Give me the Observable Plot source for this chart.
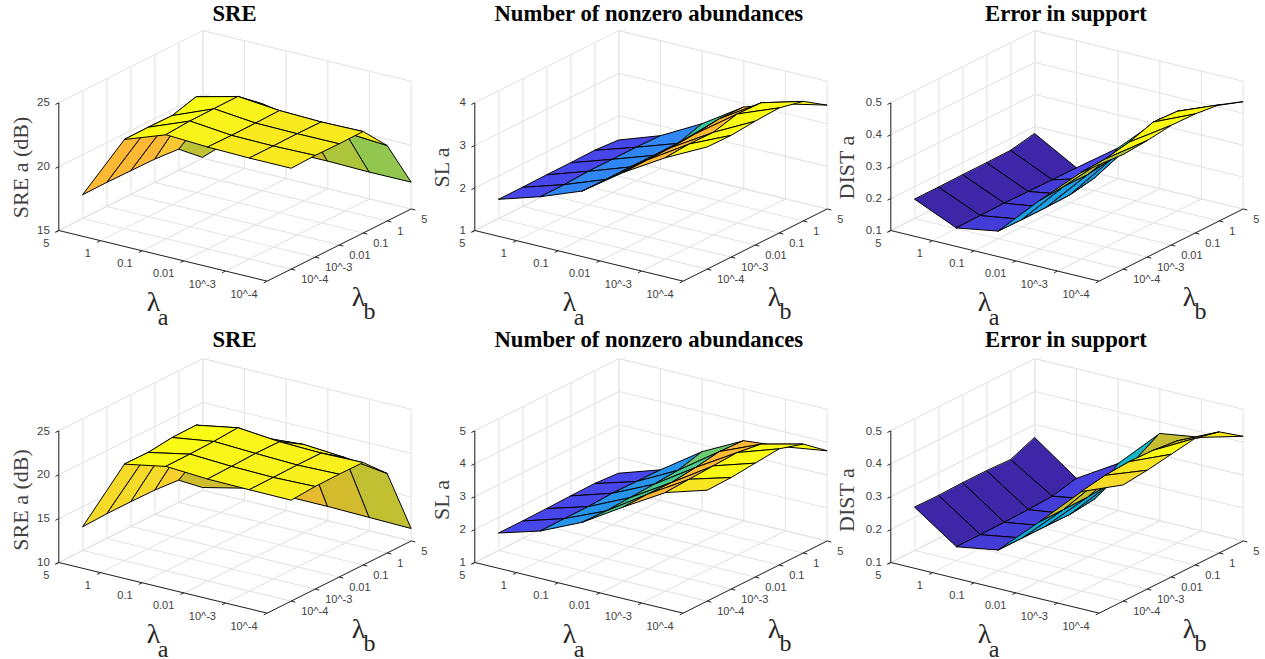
<!DOCTYPE html>
<html>
<head>
<meta charset="utf-8">
<script src="https://cdn.jsdelivr.net/npm/d3@7"></script>
<script src="https://cdn.jsdelivr.net/npm/@observablehq/plot@0.6"></script>
<style>
html,body{margin:0;padding:0;background:#fff;overflow:hidden}
#chart{position:relative;width:1265px;height:659px}
#chart svg{position:absolute;overflow:visible}
</style>
</head>
<body>
<div id="chart"></div>
<script>
// axis categories
const lambdaA = ["5", "1", "0.1", "0.01", "10^-3", "10^-4"];
const lambdaB = ["10^-4", "10^-3", "0.01", "0.1", "1", "5"];

// surface heights: rows follow lambdaA, columns follow lambdaB
const sreTop = [
  [16.88, 16.90, 16.87, 16.84, 16.68, 15.09],
  [21.98, 22.00, 21.97, 22.50, 21.50, 17.87],
  [23.14, 23.27, 23.29, 23.31, 21.80, 17.14],
  [22.97, 22.94, 22.96, 23.00, 21.20, 17.16],
  [22.90, 22.90, 22.92, 22.90, 21.14, 17.09],
  [22.90, 22.96, 22.93, 22.95, 20.91, 17.10]
];
const slTop = [
  [1.45, 1.45, 1.46, 1.46, 1.47, 1.43],
  [1.75, 1.75, 1.78, 1.78, 1.78, 1.77],
  [2.12, 2.11, 2.12, 2.11, 2.11, 2.29],
  [2.80, 2.81, 2.82, 2.86, 2.93, 2.92],
  [3.38, 3.42, 3.41, 3.56, 3.54, 3.23],
  [3.87, 3.86, 3.91, 3.94, 3.81, 3.44]
];
const distTop = [
  [0.160, 0.160, 0.161, 0.161, 0.162, 0.177],
  [0.102, 0.103, 0.104, 0.103, 0.102, 0.102],
  [0.124, 0.123, 0.123, 0.125, 0.139, 0.196],
  [0.252, 0.258, 0.258, 0.269, 0.289, 0.319],
  [0.372, 0.376, 0.391, 0.416, 0.412, 0.385],
  [0.459, 0.465, 0.475, 0.473, 0.464, 0.436]
];
const sreBottom = [
  [12.73, 12.84, 12.84, 12.80, 12.56, 10.32],
  [20.99, 20.95, 21.28, 21.32, 19.50, 11.40],
  [21.88, 21.91, 21.98, 22.17, 19.70, 11.64],
  [21.59, 21.66, 21.77, 21.73, 20.05, 11.62],
  [21.53, 21.56, 21.60, 21.59, 19.70, 11.52],
  [21.50, 21.69, 21.72, 21.68, 19.06, 11.42]
];
const slBottom = [
  [1.53, 1.53, 1.54, 1.56, 1.57, 1.52],
  [1.90, 1.91, 1.91, 1.95, 1.94, 1.93],
  [2.47, 2.45, 2.49, 2.53, 2.59, 2.79],
  [3.25, 3.27, 3.26, 3.35, 3.47, 3.43],
  [3.99, 4.03, 4.07, 4.11, 4.00, 3.55],
  [4.37, 4.39, 4.46, 4.53, 4.31, 3.74]
];
const distBottom = [
  [0.231, 0.230, 0.232, 0.232, 0.229, 0.260],
  [0.142, 0.142, 0.143, 0.145, 0.149, 0.167],
  [0.163, 0.163, 0.163, 0.162, 0.171, 0.243],
  [0.280, 0.281, 0.282, 0.289, 0.323, 0.365],
  [0.402, 0.415, 0.420, 0.418, 0.410, 0.384],
  [0.453, 0.461, 0.473, 0.485, 0.468, 0.418]
];

// face colour data, one value per grid cell
const sreTopC = [
  [0.87, 0.87, 0.87, 0.90, 0.74],
  [1.00, 1.00, 1.00, 1.00, 0.95],
  [0.985, 0.985, 0.985, 0.985, 0.78],
  [0.97, 0.97, 0.97, 0.97, 0.70],
  [0.97, 0.97, 0.97, 0.97, 0.66]
];
const slTopC = [
  [0.10, 0.10, 0.10, 0.10, 0.10],
  [0.25, 0.25, 0.25, 0.25, 0.25],
  [0.50, 0.50, 0.50, 0.50, 0.50],
  [0.87, 0.87, 0.87, 0.87, 0.87],
  [1.00, 1.00, 1.00, 1.00, 1.00]
];
const distTopC = [
  [0.00, 0.00, 0.00, 0.00, 0.00],
  [0.07, 0.07, 0.07, 0.07, 0.10],
  [0.33, 0.33, 0.33, 0.33, 0.47],
  [0.72, 0.72, 0.72, 0.72, 0.87],
  [0.72, 1.00, 1.00, 1.00, 1.00]
];
const sreBottomC = [
  [0.94, 0.94, 0.94, 0.92, 0.78],
  [1.00, 1.00, 1.00, 1.00, 0.85],
  [0.99, 0.99, 0.99, 0.99, 0.83],
  [0.985, 0.985, 0.985, 0.985, 0.79],
  [0.98, 0.98, 0.98, 0.98, 0.75]
];
const slBottomC = [
  [0.10, 0.10, 0.10, 0.10, 0.10],
  [0.29, 0.29, 0.29, 0.29, 0.29],
  [0.54, 0.54, 0.54, 0.54, 0.60],
  [0.87, 0.87, 0.87, 0.87, 0.87],
  [0.96, 1.00, 1.00, 1.00, 1.00]
];
const distBottomC = [
  [0.00, 0.00, 0.00, 0.00, 0.00],
  [0.07, 0.07, 0.07, 0.07, 0.08],
  [0.38, 0.38, 0.38, 0.38, 0.42],
  [0.76, 0.76, 0.76, 0.76, 0.76],
  [0.94, 0.96, 1.00, 0.76, 0.97]
];

// panel list
const titles = ["SRE", "Number of nonzero abundances", "Error in support"];
const zLabels = ["SRE a (dB)", "SL a", "DIST a"];
const zTicks = [
  [15, 20, 25], [1, 2, 3, 4], [0.1, 0.2, 0.3, 0.4, 0.5],
  [10, 15, 20, 25], [1, 2, 3, 4, 5], [0.1, 0.2, 0.3, 0.4, 0.5]
];
const surfaces = [sreTop, slTop, distTop, sreBottom, slBottom, distBottom];
const colours = [sreTopC, slTopC, distTopC, sreBottomC, slBottomC, distBottomC];

// MATLAB parula colour map
const parula = d3.scaleLinear()
  .domain([0, 0.1, 0.2, 0.3, 0.4, 0.5, 0.6, 0.7, 0.8, 0.87, 0.93, 1])
  .range(["#3e26a8", "#4746eb", "#3a75fd", "#2497eb", "#0cb1cf", "#30c6a0", "#6acb6f", "#acc53a", "#d6ba2c", "#fdb933", "#f6d42c", "#f9fb15"])
  .interpolate(d3.interpolateRgb);

const serif = "'Liberation Serif','Times New Roman',serif";
const sans = "'Liberation Sans',Arial,sans-serif";
const W = 433, H = 330;
const lefts = [0, 415.7, 832.4];
const tops = [0, 331.67];

function panel(i) {
  const col = i % 3, row = Math.floor(i / 3);
  const Z = surfaces[i], C = colours[i], ticks = zTicks[i];
  const zMin = ticks[0], zMax = ticks[ticks.length - 1];
  const zPx = row === 0 ? 127.7 : 131.67;
  // parallel 3D view: a = lambda_a index, b = lambda_b position (0 = unlabeled corner)
  const px = (a, b) => 58.3 + 41.67 * a + 24 * b;
  const py = (a, b, z) => 230 + 10.13 * a - 12.03 * b - (z - zMin) / (zMax - zMin) * zPx;
  const link = (a1, b1, z1, a2, b2, z2) => ({x1: px(a1, b1), y1: py(a1, b1, z1), x2: px(a2, b2), y2: py(a2, b2, z2)});

  // walls and floor
  const grid = [];
  for (let a = 0; a <= 5; a++) {
    grid.push(link(a, 0, zMin, a, 6, zMin));
    grid.push(link(a, 6, zMin, a, 6, zMax));
  }
  for (let b = 0; b <= 6; b++) {
    grid.push(link(0, b, zMin, 5, b, zMin));
    grid.push(link(0, b, zMin, 0, b, zMax));
  }
  for (const t of ticks) {
    grid.push(link(0, 0, t, 0, 6, t));
    grid.push(link(0, 6, t, 5, 6, t));
  }

  // surface cells back to front
  const cells = [];
  for (let a = 0; a < 5; a++) {
    for (let k = 4; k >= 0; k--) {
      const id = a * 10 + (4 - k);
      for (const [u, v] of [[a, k], [a + 1, k], [a + 1, k + 1], [a, k + 1]]) {
        cells.push({id, c: C[a][k], x: px(u, v + 1), y: py(u, v + 1, Z[u][v])});
      }
    }
  }

  // axes
  const axes = [link(0, 0, zMin, 0, 0, zMax), link(0, 0, zMin, 5, 0, zMin), link(5, 0, zMin, 5, 6, zMin)];
  for (const t of ticks) axes.push(link(0, 0, t, 0, -0.14, t));
  for (let a = 0; a <= 5; a++) axes.push(link(a, 0, zMin, a, -0.14, zMin));
  for (let b = 1; b <= 6; b++) axes.push(link(5, b, zMin, 5.1, b, zMin));

  const aTickText = lambdaA.map((label, a) => ({label, x: px(a, 0) - 9.5, y: py(a, 0, zMin) + 13}));
  const bTickText = lambdaB.map((label, k) => ({label, x: px(5, k + 1) + 10, y: py(5, k + 1, zMin) + 10.5}));
  const zTickText = ticks.map(t => ({label: String(t), x: px(0, 0) - 9, y: py(0, 0, t)}));
  const dy = row === 0 ? 0 : 0.5;

  const tickStyle = {x: "x", y: "y", text: "label", fontFamily: sans, fontSize: 11, fill: "#404040", lineAnchor: "middle"};
  const one = (x, y, text, o) => Plot.text([{x, y, text}], {x: "x", y: "y", text: "text", lineAnchor: "middle", fontFamily: serif, ...o});
  const shift = [0, 0, -1][col];

  return Plot.plot({
    width: W, height: H,
    marginTop: 0, marginRight: 0, marginBottom: 0, marginLeft: 0,
    style: {background: "transparent", left: lefts[col] + "px", top: tops[row] + "px", overflow: "visible"},
    x: {domain: [0, W], range: [0, W], axis: null},
    y: {domain: [0, H], range: [0, H], axis: null},
    color: {type: "linear", domain: [0, 1], interpolate: t => parula(t)},
    marks: [
      Plot.link(grid, {x1: "x1", y1: "y1", x2: "x2", y2: "y2", stroke: "#e4e4e4", strokeWidth: 1.1}),
      Plot.line(cells, {x: "x", y: "y", z: "id", fill: "c", stroke: "#000", strokeWidth: 1, curve: "linear-closed", strokeLinejoin: "round"}),
      Plot.link(axes, {x1: "x1", y1: "y1", x2: "x2", y2: "y2", stroke: "#262626", strokeWidth: 1}),
      Plot.text(aTickText, {...tickStyle, textAnchor: "end"}),
      Plot.text(bTickText, {...tickStyle, textAnchor: "start"}),
      Plot.text(zTickText, {...tickStyle, fontSize: 11.5, textAnchor: "end"}),
      one(234 + [0, -1.7, -0.6][col], row === 0 ? 13 : 7.5, titles[col], {fontSize: 22.7, fontWeight: "bold", fill: "#000", textAnchor: "middle"}),
      one([20.7, 25.6, 14.6][col], 167 + dy, zLabels[col], {fontSize: 22, fill: "#404040", rotate: -90, textAnchor: "middle"}),
      one(153 + shift, 302, "λ", {fontSize: 28, fill: "#262626", textAnchor: "middle"}),
      one(162.7 + shift, 317, "a", {fontSize: 24, fill: "#262626", textAnchor: "middle"}),
      one(358 + shift, 297, "λ", {fontSize: 28, fill: "#262626", textAnchor: "middle"}),
      one(369 + shift, 311, "b", {fontSize: 24, fill: "#262626", textAnchor: "middle"})
    ]
  });
}

const root = document.getElementById("chart");
for (let i = 0; i < 6; i++) root.appendChild(panel(i));
</script>
</body>
</html>
